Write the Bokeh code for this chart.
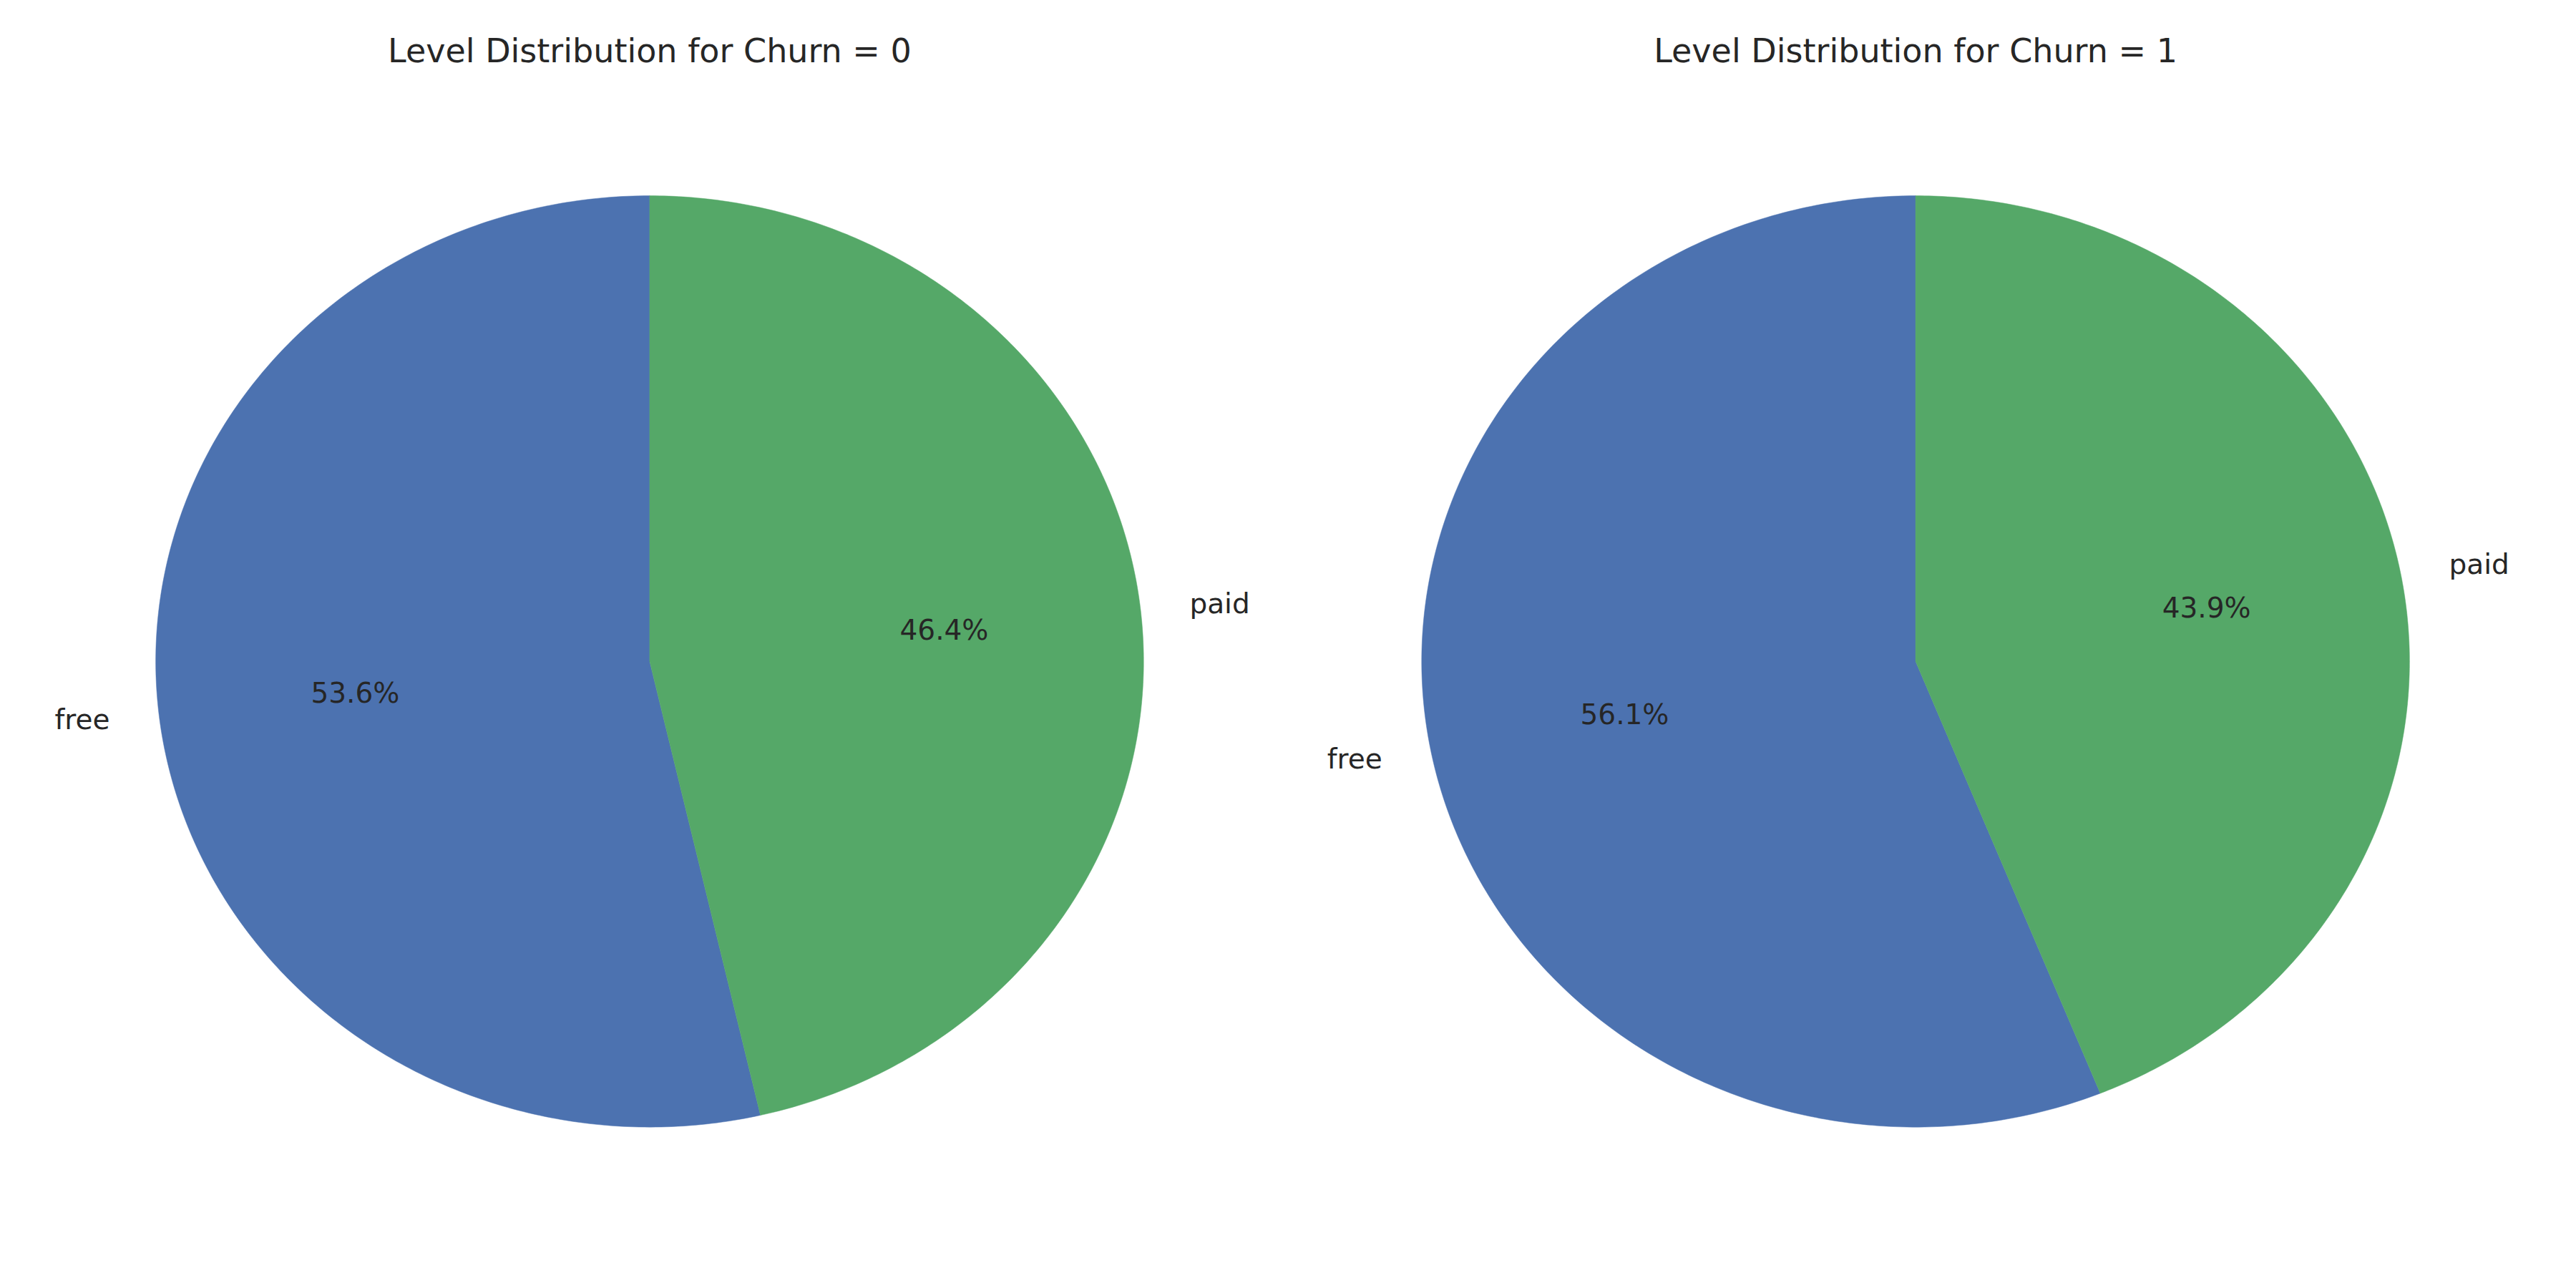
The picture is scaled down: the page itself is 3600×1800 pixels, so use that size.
import numpy as np
from bokeh.plotting import figure
from bokeh.models import Range1d
from bokeh.core.properties import value
from bokeh.embed import file_html
from bokeh.resources import INLINE

titles = ["Level Distribution for Churn = 0", "Level Distribution for Churn = 1"]
categories = ["free", "paid"]
shares_churn0 = [53.6, 46.4]
shares_churn1 = [56.1, 43.9]
colors = ["#4C72B0", "#55A868"]

W, H = 1568, 784
S = 3584 / W
p = figure(width=3584, height=1784, x_range=Range1d(0, W), y_range=Range1d(H, 0),
           output_backend="svg", toolbar_location=None, min_border=0)
p.axis.visible = False
p.grid.visible = False
p.outline_line_color = None

font = value("DejaVu Sans")
centers = [(397, 406), (1171, 406)]
rx, ry = 302, 286
for (cx, cy), shares, title in zip(centers, [shares_churn0, shares_churn1], titles):
    start = 90.0
    for cat, sh, col in zip(categories, shares, colors):
        end = start + sh * 3.6
        a = np.radians(np.linspace(start, end, 300))
        xs = [cx] + list(cx + rx * np.cos(a))
        ys = [cy] + list(cy - ry * np.sin(a))
        p.patch(xs, ys, fill_color=col, line_color=col, line_width=0.5)
        mid = np.radians((start + end) / 2)
        lx = cx + 1.1 * rx * np.cos(mid); ly = cy - 1.1 * ry * np.sin(mid)
        p.text([lx], [ly], text=[cat], text_align="right" if np.cos(mid) < 0 else "left",
               text_baseline="middle", text_font=font, text_font_size=f"{17*S:.0f}px", text_color="#262626")
        px = cx + 0.6 * rx * np.cos(mid); py = cy - 0.6 * ry * np.sin(mid)
        p.text([px], [py], text=[f"{sh:.1f}%"], text_align="center", text_baseline="middle",
               text_font=font, text_font_size=f"{17*S:.0f}px", text_color="#262626")
        start = end
    p.text([cx], [31], text=[title], text_align="center", text_baseline="middle",
           text_font=font, text_font_size=f"{20*S:.0f}px", text_color="#262626")

open("out.html", "w").write(file_html(p, INLINE))
